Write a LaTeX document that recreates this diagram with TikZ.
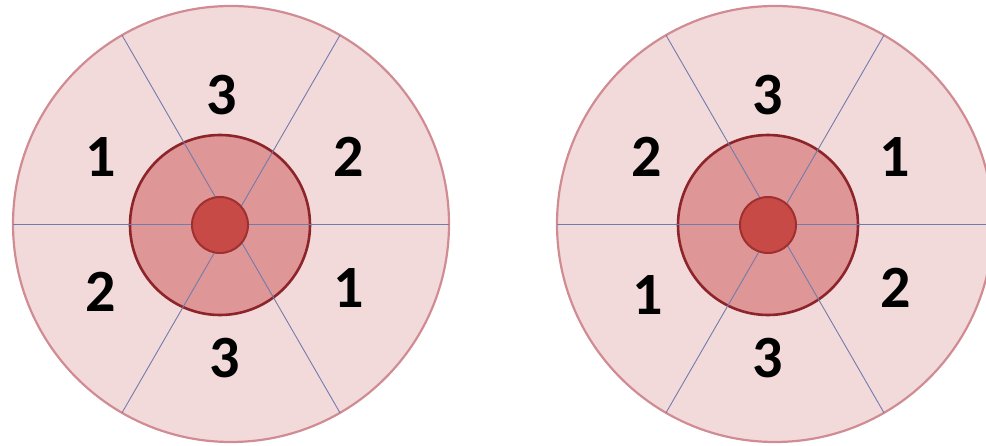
\documentclass[tikz,border=0pt]{standalone}
\usepackage{fontspec}
\setmainfont{Carlito}
\definecolor{ringfill}{RGB}{242,218,218}
\definecolor{ringdraw}{RGB}{208,140,146}
\definecolor{corefill}{RGB}{222,150,150}
\definecolor{coredraw}{RGB}{140,36,42}
\definecolor{dotfill}{RGB}{200,74,70}
\definecolor{dotdraw}{RGB}{160,48,48}
\definecolor{sectline}{RGB}{112,124,172}
\tikzset{every node/.append style={align=center, inner sep=0pt, outer sep=0pt}}

\begin{document}
\begin{tikzpicture}[
    x=1pt, y=-1pt,
    ring/.style={circle, draw=ringdraw, fill=ringfill, line width=2.2pt,
        minimum size=436pt},
    core/.style={circle, draw=coredraw, fill=corefill, line width=2.6pt,
        minimum size=180pt},
    dot/.style={circle, draw=dotdraw, fill=dotfill, line width=2pt,
        minimum size=56pt},
    sect/.style={draw=sectline, line width=0.9pt},
    num/.style={font=\fontsize{60}{60}\selectfont\bfseries, text=black}
]
\useasboundingbox (0,0) rectangle (986,446);
% left eye
\node[ring] (lring) at (231,224) {};
\node[core] (lcore) at (220,225) {};
\draw[sect] (lring.180) -- (lring.0);
\draw[sect] (lring.120) -- (lring.300);
\draw[sect] (lring.60) -- (lring.240);
\node[dot] (ldot) at (220,225) {};
\node[num] (la) at (222,95) {3};
\node[num] (lb) at (101,157) {1};
\node[num] (lc) at (349,157) {2};
\node[num] (ld) at (101,292) {2};
\node[num] (le) at (349,288) {1};
\node[num] (lf) at (225,358) {3};
% right eye
\node[ring] (rring) at (775,224) {};
\node[core] (rcore) at (768,225) {};
\draw[sect] (rring.180) -- (rring.0);
\draw[sect] (rring.120) -- (rring.300);
\draw[sect] (rring.60) -- (rring.240);
\node[dot] (rdot) at (768,225) {};
\node[num] (ra) at (768,95) {3};
\node[num] (rb) at (647,157) {2};
\node[num] (rc) at (895,157) {1};
\node[num] (rd) at (648,295) {1};
\node[num] (re) at (896,288) {2};
\node[num] (rf) at (768,358) {3};
\end{tikzpicture}
\end{document}
